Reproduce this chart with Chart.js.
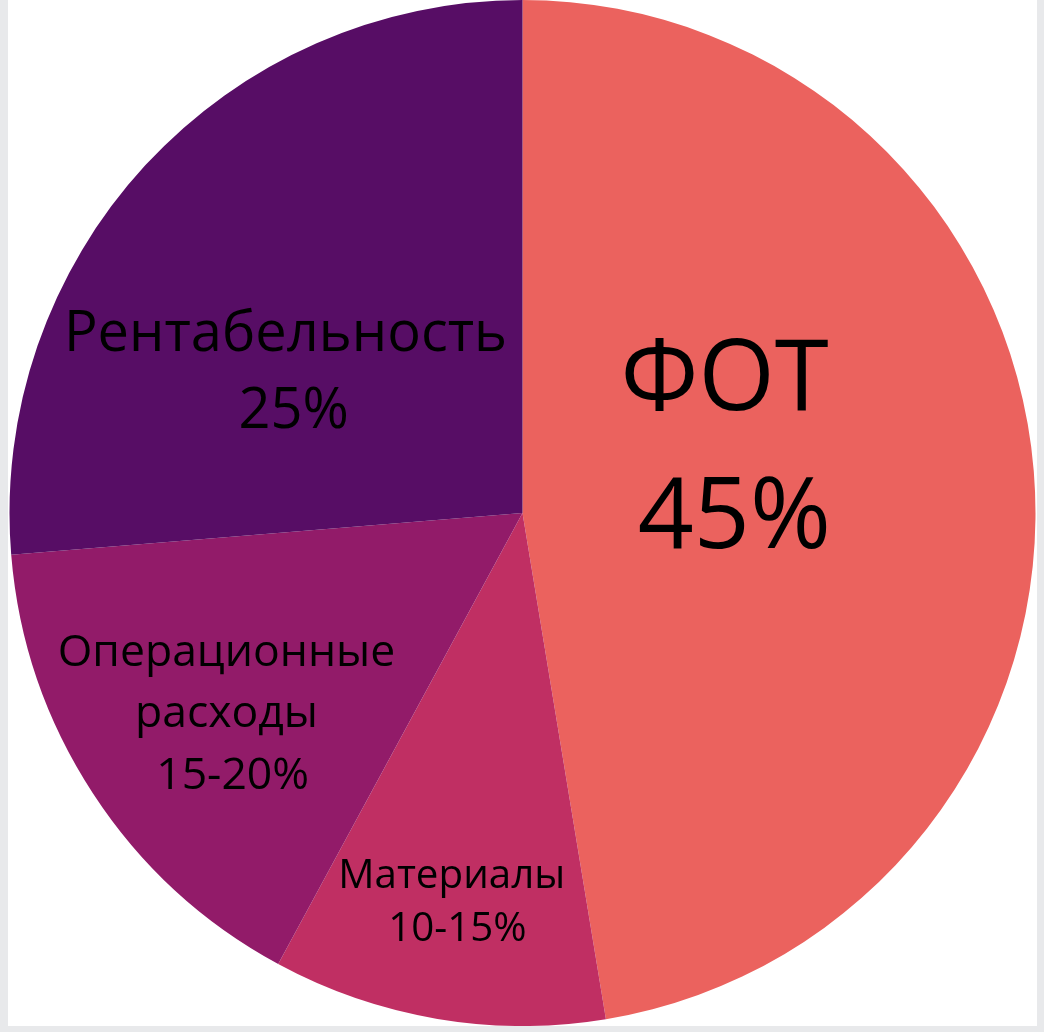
<!DOCTYPE html>
<html>
<head>
<meta charset="utf-8">
<script src="https://cdn.jsdelivr.net/npm/chart.js@4"></script>
<style>
    body { margin: 0; background: #e8e9eb; }
    .box { position: absolute; left: 8px; top: 0; width: 1029px; height: 1026px; background: #fff; }
</style>
</head>
<body>
<div class="box"><canvas id="myChart"></canvas></div>
<script>
const categories = ['ФОТ', 'Материалы', 'Операционные расходы', 'Рентабельность'];
const shares = [47.4, 10.5, 15.8, 26.3];
const sliceLabels = [
    ['ФОТ', '45%'],
    ['Материалы', '10-15%'],
    ['Операционные', 'расходы', '15-20%'],
    ['Рентабельность', '25%']
];
const colors = ['#eb625e', '#c02f63', '#921b69', '#570d65'];

// where each label sits, in parts of the radius from the centre (one x per line)
const labelLayout = [
    { xs: [0.394, 0.413], y: -0.201, size: 98, lh: 138 },
    { xs: [-0.138, -0.127], y: 0.731, size: 40.3, lh: 53 },
    { xs: [-0.577, -0.577, -0.565], y: 0.298, size: 44.5, lh: 61.5 },
    { xs: [-0.462, -0.446], y: -0.316, size: 56, lh: 77 }
];

const sliceText = {
    id: 'sliceText',
    afterDatasetsDraw(chart) {
        const ctx = chart.ctx;
        const arcs = chart.getDatasetMeta(0).data;
        arcs.forEach((arc, i) => {
            const l = labelLayout[i];
            const r = arc.outerRadius;
            ctx.save();
            ctx.fillStyle = '#000';
            ctx.textAlign = 'center';
            ctx.textBaseline = 'alphabetic';
            ctx.font = l.size + 'px "Open Sans"';
            sliceLabels[i].forEach((line, j) => {
                ctx.fillText(line, arc.x + l.xs[j] * r, arc.y + l.y * r + j * l.lh);
            });
            ctx.restore();
        });
    }
};

document.addEventListener('DOMContentLoaded', function () {
    const ctx = document.getElementById('myChart');

    new Chart(ctx, {
        type: 'pie',
        data: {
            labels: categories,
            datasets: [{
                data: shares,
                backgroundColor: colors,
                borderWidth: 0
            }]
        },
        options: {
            responsive: true,
            maintainAspectRatio: false,
            animation: false,
            layout: { padding: 0 },
            plugins: {
                legend: { display: false },
                tooltip: { enabled: false }
            }
        },
        plugins: [sliceText]
    });
});
</script>
</body>
</html>
